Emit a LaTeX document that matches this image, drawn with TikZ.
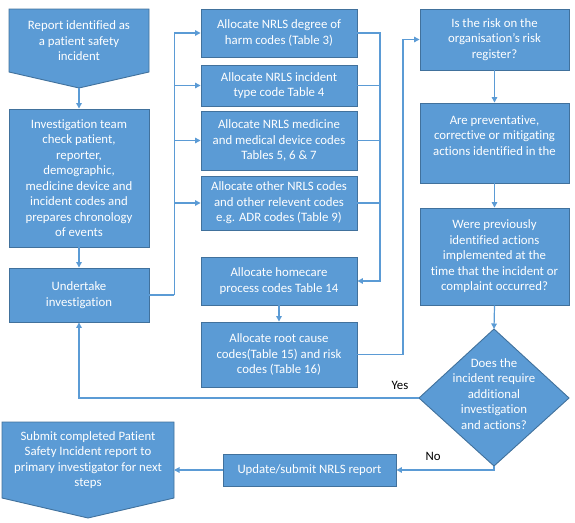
\documentclass[tikz,border=0pt]{standalone}
\usepackage{fontspec}
\setmainfont[Ligatures=CommonOff]{Carlito}
\usetikzlibrary{arrows.meta,calc}
\definecolor{boxfill}{HTML}{5B9BD5}
\definecolor{boxline}{HTML}{41719C}
\definecolor{conn}{HTML}{5B9BD5}
\tikzset{
  box/.style={rectangle,draw=boxline,fill=boxfill,line width=0.9pt,inner sep=0pt,
    text=white,align=center,font=\fontsize{12.8}{15.5}\selectfont},
  shapefill/.style={draw=boxline,fill=boxfill,line width=0.9pt},
  txt/.style={inner sep=0pt,text=white,align=center,font=\fontsize{12.8}{15.5}\selectfont},
  lbl/.style={inner sep=0pt,text=black,font=\fontsize{12.8}{14}\selectfont},
  conn/.style={draw=conn,line width=1.2pt},
  arr/.style={conn,-{Triangle[length=5.5pt,width=5.5pt]}},
}
\begin{document}
\begin{tikzpicture}[x=1pt,y=-1pt]
\useasboundingbox (0,0) rectangle (575,522);
% pentagon shapes
\draw[shapefill] (9,9) -- (149,9) -- (149,72) -- (79,88) -- (9,72) -- cycle;
\coordinate (reporttip) at (79,88);
\node[txt] (report) at (79,41) {Report identified as\\a patient safety\\incident};
\draw[shapefill] (2,422) -- (174,422) -- (174,498) -- (88,518) -- (2,498) -- cycle;
\coordinate (submitE) at (174,470);
\node[txt] (submit) at (88,460) {Submit completed Patient\\Safety Incident report to\\primary investigator for next\\steps};
% left column
\node[box,minimum width=140pt,minimum height=138pt] (inv) at (79,178)
 {Investigation team\\check patient,\\reporter,\\demographic,\\medicine device and\\incident codes and\\prepares chronology\\of events};
\node[box,minimum width=140pt,minimum height=54pt] (und) at (79,295) {Undertake\\investigation};
% middle column
\node[box,minimum width=156pt,minimum height=48pt] (A) at (279,33) {Allocate NRLS degree of\\harm codes (Table 3)};
\node[box,minimum width=156pt,minimum height=41pt] (B) at (279,85.5) {Allocate NRLS incident\\type code Table 4};
\node[box,minimum width=156pt,minimum height=59pt] (C) at (279,140.5) {Allocate NRLS medicine\\and medical device codes\\Tables 5, 6 \& 7};
\node[box,minimum width=156pt,minimum height=54pt] (D) at (279,203) {Allocate other NRLS codes\\and other relevent codes\\e.g. ADR codes (Table 9)};
\node[box,minimum width=156pt,minimum height=48pt] (E) at (279,281) {Allocate homecare\\process codes Table 14};
\node[box,minimum width=156pt,minimum height=65pt] (F) at (279,354.5) {Allocate root cause\\codes(Table 15) and risk\\codes (Table 16)};
% right column
\node[box,minimum width=149pt,minimum height=61pt] (R1) at (494.5,39.5) {Is the risk on the\\organisation’s risk\\register?};
\node[box,minimum width=149pt,minimum height=80pt] (R2) at (494.5,143) {Are preventative,\\corrective or mitigating\\actions identified in the\\\mbox{}};
\node[box,minimum width=149pt,minimum height=97pt] (R3) at (494.5,256.5) {Were previously\\identified actions\\implemented at the\\time that the incident or\\complaint occurred?};
% decision
\draw[shapefill] (494,329) -- (569,398) -- (494,466) -- (419,398) -- cycle;
\coordinate (dtop) at (494,329);
\coordinate (dleft) at (419,398);
\coordinate (dbot) at (494,466);
\node[txt] (dec) at (494,394) {Does the\\incident require\\additional\\investigation\\and actions?};
\node[box,minimum width=173pt,minimum height=32pt] (upd) at (309.5,470) {Update/submit NRLS report};
% connectors
\draw[arr] (reporttip) -- (inv.north);
\draw[arr] (inv.south) -- (und.north);
\coordinate (busL) at ($(und.east)+(25,0)$);
\draw[conn] (und.east) -- (busL);
\draw[arr] (busL) |- (A.west);
\draw[arr] (busL) |- (B.west);
\draw[arr] (busL) |- (C.west);
\draw[arr] (busL) |- (D.west);
\coordinate (busR) at (380,0);
\draw[arr] (A.east) -- (A.east -| busR) |- (E.east);
\draw[conn] (B.east) -- (B.east -| busR);
\draw[conn] (C.east) -- (C.east -| busR);
\draw[conn] (D.east) -- (D.east -| busR);
\draw[arr] (E.south) -- (F.north);
\coordinate (busF) at (403,0);
\draw[arr] (F.east) -- (F.east -| busF) |- (R1.west);
\draw[arr] (R1.south) -- (R2.north);
\draw[arr] (R2.south) -- (R3.north);
\draw[arr] (R3.south) -- (dtop);
\draw[arr] (dleft) -| (und.south);
\draw[arr] (dbot) |- (upd.east);
\draw[arr] (upd.west) -- (submitE);
\node[lbl] (yes) at (400,385) {Yes};
\node[lbl] (no) at (433,456) {No};
\end{tikzpicture}
\end{document}
